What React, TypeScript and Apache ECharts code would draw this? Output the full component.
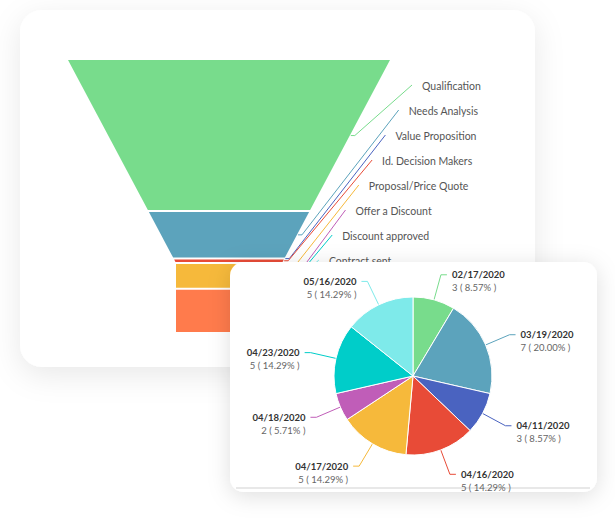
import React, { useEffect, useRef } from "react";
import * as echarts from "echarts";

// ---- Funnel data ----
const funnelStages = [
  "Qualification",
  "Needs Analysis",
  "Value Proposition",
  "Id. Decision Makers",
  "Proposal/Price Quote",
  "Offer a Discount",
  "Discount approved",
  "Contract sent",
  "Closed Won",
];
const funnelValues = [35, 11, 0, 1, 6, 0, 0, 0, 10];
// labels that are visible in the picture (the last one sits behind the front card)
const funnelLabelled = [true, true, true, true, true, true, true, true, false];
const funnelColors = [
  "#78DC8C",
  "#5CA3BC",
  "#4A63C0",
  "#E84B37",
  "#F6B93B",
  "#C05DB8",
  "#00CDC9",
  "#7EEAEA",
  "#FF7B4C",
];

// ---- Pie data ----
const pieDates = [
  "02/17/2020",
  "03/19/2020",
  "04/11/2020",
  "04/16/2020",
  "04/17/2020",
  "04/18/2020",
  "04/23/2020",
  "05/16/2020",
];
const pieValues = [3, 7, 3, 5, 5, 2, 5, 5];
const pieColors = [
  "#78DC8C",
  "#5CA3BC",
  "#4A63C0",
  "#E84B37",
  "#F6B93B",
  "#C05DB8",
  "#00CDC9",
  "#7EEAEA",
];

const FONT = "Lato, 'Open Sans', sans-serif";

export default function App() {
  const ref = useRef<HTMLDivElement>(null);

  useEffect(() => {
    if (!ref.current) return;
    const chart = echarts.init(ref.current, undefined, { renderer: "svg" });

    // funnel geometry (funnel with a neck)
    const topY = 60;
    const bottomY = 332;
    const cx = 229;
    const topHalf = 161;
    const neckHalf = 53;
    const neckY = 263;
    const H = bottomY - topY;
    const total = funnelValues.reduce((a, b) => a + b, 0);
    const cum: number[] = [];
    funnelValues.reduce((acc, v, i) => {
      cum[i] = acc;
      return acc + v;
    }, 0);
    const hw = (y: number) =>
      y <= neckY
        ? topHalf - ((topHalf - neckHalf) * (y - topY)) / (neckY - topY)
        : neckHalf;

    const labelY0 = 86;
    const labelStep = 25;
    const labelX0 = 422;
    const labelDx = 13.3;

    const renderItem = (params: any, api: any) => {
      const i = params.dataIndex;
      const v = api.value(0);
      const a0 = topY + (cum[i] / total) * H;
      const b0 = a0 + (v / total) * H;
      const a = i > 0 ? a0 + 1 : a0;
      const b = i < funnelValues.length - 1 ? b0 - 1 : b0;
      const children: any[] = [];
      const color = funnelColors[i];
      if (v > 0 && b > a) {
        const pts: number[][] = [
          [cx - hw(a), a],
          [cx + hw(a), a],
        ];
        const cross = a < neckY && b > neckY;
        if (cross) pts.push([cx + neckHalf, neckY]);
        pts.push([cx + hw(b), b]);
        pts.push([cx - hw(b), b]);
        if (cross) pts.push([cx - neckHalf, neckY]);
        children.push({
          type: "polygon",
          shape: { points: pts },
          style: { fill: color },
        });
      }
      if (funnelLabelled[i]) {
        const my = (a0 + b0) / 2;
        const ex = cx + hw(my);
        const lx = labelX0 - labelDx * i;
        const ly = labelY0 + labelStep * i;
        children.push({
          type: "polyline",
          shape: {
            points: [
              [ex + 1, my],
              [ex + 5, my],
              [lx - 10, ly - 1],
            ],
          },
          style: { stroke: color, fill: "none", lineWidth: 1 },
        });
        children.push({
          type: "text",
          style: {
            text: funnelStages[i],
            x: lx,
            y: ly,
            align: "left",
            verticalAlign: "middle",
            fill: "#555",
            font: `10.5px ${FONT}`,
          },
        });
      }
      return { type: "group", children };
    };

    const pieTotal = pieValues.reduce((a, b) => a + b, 0);

    const option: any = {
      animation: false,
      backgroundColor: "#ffffff",
      graphic: [
        {
          type: "rect",
          z: 0,
          shape: { x: 20, y: 10, width: 515, height: 357, r: 22 },
          style: {
            fill: "#fff",
            shadowBlur: 30,
            shadowColor: "rgba(0,0,0,0.09)",
            shadowOffsetY: 8,
          },
        },
        {
          type: "rect",
          z: 3,
          shape: { x: 230, y: 262, width: 367, height: 230, r: 14 },
          style: {
            fill: "#fff",
            shadowBlur: 22,
            shadowColor: "rgba(0,0,0,0.13)",
            shadowOffsetY: 4,
          },
        },
        {
          type: "line",
          z: 3,
          shape: { x1: 236, y1: 488, x2: 590, y2: 488 },
          style: { stroke: "#e8e8e8", lineWidth: 2 },
        },
      ],
      series: [
        {
          type: "custom",
          coordinateSystem: "none",
          z: 2,
          renderItem,
          data: funnelValues.map((v) => [v]),
          silent: true,
        },
        {
          type: "pie",
          z: 5,
          center: [413, 376],
          radius: 79,
          startAngle: 90,
          clockwise: true,
          avoidLabelOverlap: false,
          itemStyle: { borderColor: "#fff", borderWidth: 1 },
          label: {
            show: true,
            position: "outside",
            padding: [13, 0, 0, 0],
            formatter: (p: any) =>
              `{d|${p.name}}\n{v|${p.value} ( ${((p.value / pieTotal) * 100).toFixed(2)}% )}`,
            rich: {
              d: {
                fontFamily: FONT,
                fontWeight: "bold",
                fontSize: 9.5,
                color: "#333",
                lineHeight: 13,
              },
              v: {
                fontFamily: FONT,
                fontSize: 9.5,
                color: "#666",
                lineHeight: 13,
              },
            },
          },
          labelLine: {
            show: true,
            length: 26,
            length2: 6,
            lineStyle: { width: 1 },
          },
          data: pieDates.map((d, i) => ({
            name: d,
            value: pieValues[i],
            itemStyle: { color: pieColors[i] },
          })),
        },
      ],
    };
    chart.setOption(option);
    return () => chart.dispose();
  }, []);

  return (
    <div
      ref={ref}
      style={{ position: "fixed", left: 0, top: 0, width: 615, height: 523 }}
    />
  );
}
